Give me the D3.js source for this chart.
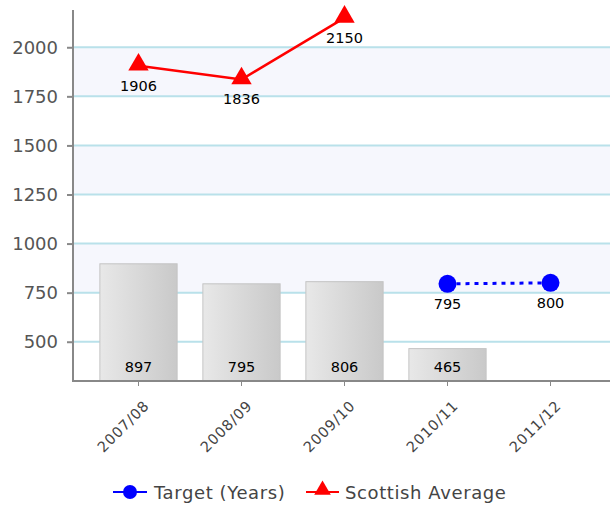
<!DOCTYPE html>
<html lang="en">
<head>
<meta charset="UTF-8">
<title>Chart</title>
<script src="https://d3js.org/d3.v7.min.js"></script>
<style>
  body { margin: 0; background: #fff; }
  text { font-family: "DejaVu Sans", Verdana, sans-serif; }
</style>
</head>
<body>
<div id="chart"></div>
<script>
const years = ["2007/08", "2008/09", "2009/10", "2010/11", "2011/12"];
const actual = [897, 795, 806, 465, null];
const target = [null, null, null, 795, 800];
const scottishAvg = [1906, 1836, 2150, null, null];
const yTicks = [500, 750, 1000, 1250, 1500, 1750, 2000];

const width = 610, height = 507;
const plotLeft = 73, plotRight = 610, plotTop = 8, plotBottom = 381;

const svg = d3.select("#chart").append("svg")
  .attr("width", width)
  .attr("height", height);

const x = d3.scaleBand().domain(years).range([87, 602]).paddingInner(0.25).paddingOuter(0.125);
const y = d3.scaleLinear().domain([300, 2200]).range([plotBottom, plotTop]);

// gradient for bars
const defs = svg.append("defs");
const grad = defs.append("linearGradient").attr("id", "barGrad");
grad.append("stop").attr("offset", "0%").attr("stop-color", "#e8e8e8");
grad.append("stop").attr("offset", "100%").attr("stop-color", "#c9c9c9");

// alternating bands
const bands = [[750, 1000], [1250, 1500], [1750, 2000]];
svg.selectAll(".band").data(bands).enter().append("rect")
  .attr("x", plotLeft)
  .attr("width", plotRight - plotLeft)
  .attr("y", d => y(d[1]))
  .attr("height", d => y(d[0]) - y(d[1]))
  .attr("fill", "#f6f7fd");

// gridlines
svg.selectAll(".grid").data(yTicks).enter().append("line")
  .attr("x1", plotLeft).attr("x2", plotRight)
  .attr("y1", d => y(d)).attr("y2", d => y(d))
  .attr("stroke", "#b9e1ea").attr("stroke-width", 2);

// bars
const barData = years.map((c, i) => ({ c, v: actual[i] })).filter(d => d.v != null);
svg.selectAll(".bar").data(barData).enter().append("rect")
  .attr("x", d => x(d.c))
  .attr("width", x.bandwidth())
  .attr("y", d => y(d.v))
  .attr("height", d => plotBottom - y(d.v))
  .attr("fill", "url(#barGrad)")
  .attr("stroke", "#c4c4c4").attr("stroke-width", 1);

svg.selectAll(".barlabel").data(barData).enter().append("text")
  .attr("x", d => x(d.c) + x.bandwidth() / 2)
  .attr("y", plotBottom - 9)
  .attr("text-anchor", "middle")
  .attr("font-size", 14.5)
  .attr("fill", "#000")
  .text(d => d.v);

// axes
const yAxis = svg.append("g")
  .attr("transform", `translate(${plotLeft},0)`)
  .call(d3.axisLeft(y).tickValues(yTicks).tickFormat(d3.format("d")).tickSize(6).tickPadding(9).tickSizeOuter(0));
yAxis.select(".domain").remove();
yAxis.selectAll(".tick line").attr("stroke", "#888").attr("stroke-width", 2);
yAxis.selectAll("text").attr("font-size", 18).attr("fill", "#555")
  .style("font-family", "DejaVu Sans, sans-serif");

svg.append("line")
  .attr("x1", plotLeft).attr("x2", plotLeft)
  .attr("y1", plotTop + 2).attr("y2", plotBottom + 1)
  .attr("stroke", "#888").attr("stroke-width", 2);

const xAxis = svg.append("g")
  .attr("transform", `translate(0,${plotBottom})`)
  .call(d3.axisBottom(x).tickSize(5).tickSizeOuter(0));
xAxis.select(".domain").remove();
xAxis.selectAll(".tick line").attr("stroke", "#888").attr("stroke-width", 1);
xAxis.selectAll("text")
  .attr("font-size", 14.5).attr("fill", "#444")
  .style("font-family", "DejaVu Sans, sans-serif")
  .attr("letter-spacing", 0.8)
  .attr("text-anchor", "end")
  .attr("x", 0).attr("y", 0)
  .attr("dx", 0).attr("dy", "0.35em")
  .attr("transform", "translate(8,22) rotate(-45)");

svg.append("line")
  .attr("x1", plotLeft - 1).attr("x2", plotRight)
  .attr("y1", plotBottom).attr("y2", plotBottom)
  .attr("stroke", "#888").attr("stroke-width", 2);

// Target line
const cx = c => x(c) + x.bandwidth() / 2;
const targetData = years.map((c, i) => ({ c, v: target[i] })).filter(d => d.v != null);
const line = d3.line().x(d => cx(d.c)).y(d => y(d.v));
svg.append("path").datum(targetData)
  .attr("d", line)
  .attr("fill", "none").attr("stroke", "#0000ff").attr("stroke-width", 3)
  .attr("stroke-dasharray", "4,5");
svg.selectAll(".tdot").data(targetData).enter().append("circle")
  .attr("cx", d => cx(d.c)).attr("cy", d => y(d.v)).attr("r", 9)
  .attr("fill", "#0000ff");
svg.selectAll(".tlabel").data(targetData).enter().append("text")
  .attr("x", d => cx(d.c)).attr("y", d => y(d.v) + 25)
  .attr("text-anchor", "middle").attr("font-size", 14.5).attr("fill", "#000")
  .text(d => d.v);

// Scottish Average line
const avgData = years.map((c, i) => ({ c, v: scottishAvg[i] })).filter(d => d.v != null);
svg.append("path").datum(avgData)
  .attr("d", line)
  .attr("fill", "none").attr("stroke", "#ff0000").attr("stroke-width", 2.5);
const tri = d3.symbol().type(d3.symbolTriangle).size(180);
svg.selectAll(".adot").data(avgData).enter().append("path")
  .attr("d", tri)
  .attr("transform", d => `translate(${cx(d.c)},${y(d.v) - 1})`)
  .attr("fill", "#ff0000");
svg.selectAll(".alabel").data(avgData).enter().append("text")
  .attr("x", d => cx(d.c)).attr("y", d => y(d.v) + 25)
  .attr("text-anchor", "middle").attr("font-size", 14.5).attr("fill", "#000")
  .text(d => d.v);

// legend
const legend = svg.append("g").attr("transform", "translate(0,492)");
legend.append("line").attr("x1", 113).attr("x2", 147).attr("y1", 0).attr("y2", 0)
  .attr("stroke", "#0000ff").attr("stroke-width", 2);
legend.append("circle").attr("cx", 130).attr("cy", 0).attr("r", 7).attr("fill", "#0000ff");
legend.append("text").attr("x", 154).attr("y", 6.5).attr("font-size", 18).attr("fill", "#444")
  .attr("letter-spacing", 0.6)
  .text("Target (Years)");
legend.append("line").attr("x1", 306).attr("x2", 339).attr("y1", 0).attr("y2", 0)
  .attr("stroke", "#ff0000").attr("stroke-width", 2);
legend.append("path").attr("d", d3.symbol().type(d3.symbolTriangle).size(120))
  .attr("transform", "translate(322.5,-2)").attr("fill", "#ff0000");
legend.append("text").attr("x", 345).attr("y", 6.5).attr("font-size", 18).attr("fill", "#444")
  .attr("letter-spacing", 0.6)
  .text("Scottish Average");
</script>
</body>
</html>
